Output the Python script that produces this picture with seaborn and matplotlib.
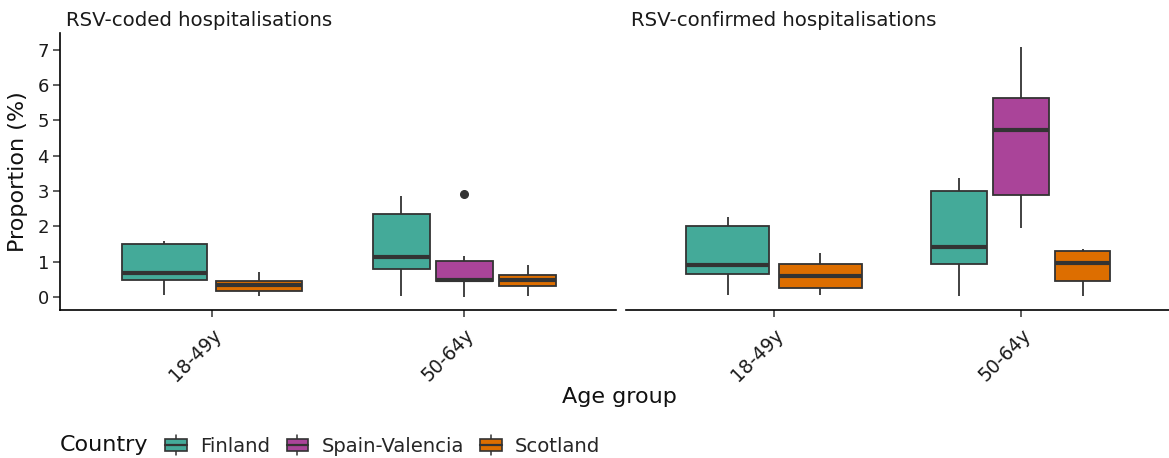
import numpy as np
import pandas as pd
import matplotlib
matplotlib.use("Agg")
import matplotlib.pyplot as plt
from matplotlib.legend_handler import HandlerBase
from matplotlib.patches import Rectangle
from matplotlib.lines import Line2D
import seaborn as sns

# ---------------- data ----------------
panels = ["RSV-coded hospitalisations", "RSV-confirmed hospitalisations"]
ages = ["18-49y", "50-64y"]
countries = ["Finland", "Spain-Valencia", "Scotland"]
colors = ["#44AA99", "#AA4499", "#DD6E00"]

coded_finland_18 = [0.06, 0.47, 0.68, 1.51, 1.58]
coded_scotland_18 = [0.04, 0.16, 0.33, 0.44, 0.71]
coded_finland_50 = [0.04, 0.78, 1.14, 2.36, 2.86]
coded_spain_50 = [0.00, 0.20, 0.44, 0.47, 0.49, 0.80, 1.01, 1.16, 2.91]
coded_scotland_50 = [0.02, 0.31, 0.47, 0.61, 0.90]

confirmed_finland_18 = [0.05, 0.64, 0.89, 2.00, 2.27]
confirmed_scotland_18 = [0.05, 0.25, 0.59, 0.92, 1.25]
confirmed_finland_50 = [0.04, 0.94, 1.40, 3.00, 3.36]
confirmed_spain_50 = [1.95, 2.88, 4.72, 5.62, 7.06]
confirmed_scotland_50 = [0.02, 0.45, 0.96, 1.29, 1.36]

groups = [
    (panels[0], "18-49y", "Finland", coded_finland_18),
    (panels[0], "18-49y", "Scotland", coded_scotland_18),
    (panels[0], "50-64y", "Finland", coded_finland_50),
    (panels[0], "50-64y", "Spain-Valencia", coded_spain_50),
    (panels[0], "50-64y", "Scotland", coded_scotland_50),
    (panels[1], "18-49y", "Finland", confirmed_finland_18),
    (panels[1], "18-49y", "Scotland", confirmed_scotland_18),
    (panels[1], "50-64y", "Finland", confirmed_finland_50),
    (panels[1], "50-64y", "Spain-Valencia", confirmed_spain_50),
    (panels[1], "50-64y", "Scotland", confirmed_scotland_50),
]
rows = []
for p, a, c, vals in groups:
    for v in vals:
        rows.append({"panel": p, "age": a, "country": c, "value": v})
df = pd.DataFrame(rows)
palette = dict(zip(countries, colors))

# ---------------- figure ----------------
sns.set_theme(style="white")
plt.rcParams["font.family"] = ["DejaVu Sans"]
W, H = 1169, 458
fig = plt.figure(figsize=(W / 100, H / 100), dpi=100)

def fx(px):
    return px / W

def fy(py):
    return 1 - py / H

ax_top, ax_bot = 33, 310
lefts = [(60, 616), (626, 1169)]
axes = []
for (l, r) in lefts:
    ax = fig.add_axes([fx(l), fy(ax_bot), fx(r) - fx(l), fy(ax_top) - fy(ax_bot)])
    axes.append(ax)

linec = "#333333"
for ax, panel in zip(axes, panels):
    sub = df[df["panel"] == panel]
    for age in ages:
        s = sub[sub["age"] == age]
        present = [c for c in countries if c in set(s["country"])]
        sns.boxplot(
            data=s, x="age", y="value", hue="country", order=ages,
            hue_order=present, palette=palette, width=0.75, gap=0.1,
            linecolor=linec, linewidth=1.3, whis=1.5, saturation=1,
            showcaps=False,
            medianprops={"linewidth": 3.0, "color": linec},
            flierprops={"marker": "o", "markerfacecolor": linec,
                        "markeredgecolor": linec, "markersize": 5.5},
            legend=False, ax=ax,
        )
    ax.set_xlim(-0.6, 1.6)
    ax.set_ylim(-0.37, 7.47)
    ax.set_xlabel("")
    ax.set_ylabel("")
    for sp in ["top", "right"]:
        ax.spines[sp].set_visible(False)
    ax.spines["bottom"].set_color("black")
    ax.spines["bottom"].set_linewidth(1.2)
    ax.tick_params(axis="x", bottom=True, length=5, width=1.1, color=linec,
                   labelsize=13.5, labelcolor="#1a1a1a", pad=6)
    for lab in ax.get_xticklabels():
        lab.set_rotation(45)
        lab.set_ha("right")
        lab.set_va("top")
        lab.set_rotation_mode("anchor")
    ax.grid(False)

axes[0].spines["left"].set_color("black")
axes[0].spines["left"].set_linewidth(1.2)
axes[0].set_yticks(range(0, 8))
axes[0].tick_params(axis="y", left=True, length=5, width=1.1, color=linec,
                    labelsize=13, labelcolor="#1a1a1a", pad=3)
axes[1].spines["left"].set_visible(False)
axes[1].set_yticks([])

# strip titles
fig.text(fx(66), fy(20), panels[0], ha="left", va="center", fontsize=14.2, color="#1a1a1a")
fig.text(fx(631), fy(20), panels[1], ha="left", va="center", fontsize=14.2, color="#1a1a1a")

# axis titles
fig.text(fx(619), fy(397), "Age group", ha="center", va="center", fontsize=16, color="#111111")
fig.text(fx(18), fy(172), "Proportion (%)", ha="center", va="center", rotation=90,
         fontsize=16, color="#111111")

# legend
class HandlerBox(HandlerBase):
    def create_artists(self, legend, orig_handle, xdescent, ydescent, width, height, fontsize, trans):
        fc = orig_handle.get_facecolor()
        bw = width
        bh = height * 0.8
        x0 = -xdescent
        y0 = -ydescent + (height - bh) / 2
        art = []
        art.append(Line2D([x0 + bw / 2, x0 + bw / 2], [-ydescent - height * 0.15, -ydescent + height * 1.15],
                          color=linec, lw=1.1, transform=trans))
        art.append(Rectangle((x0, y0), bw, bh, facecolor=fc, edgecolor=linec, lw=1.2, transform=trans))
        art.append(Line2D([x0, x0 + bw], [y0 + bh / 2, y0 + bh / 2], color=linec, lw=1.6, transform=trans))
        return art

handles = [Rectangle((0, 0), 1, 1, facecolor=c, edgecolor=linec) for c in colors]
fig.text(fx(60), fy(445), "Country", ha="left", va="center", fontsize=16, color="#111111")
fig.legend(handles, countries, loc="center left", bbox_to_anchor=(fx(165), fy(446)),
           ncol=3, frameon=False, fontsize=14.1, handlelength=1.1, handleheight=0.82,
           handletextpad=0.68, columnspacing=0.85, borderaxespad=0, borderpad=0,
           handler_map={Rectangle: HandlerBox()})

fig.savefig("out.png", dpi=100, facecolor="white")
